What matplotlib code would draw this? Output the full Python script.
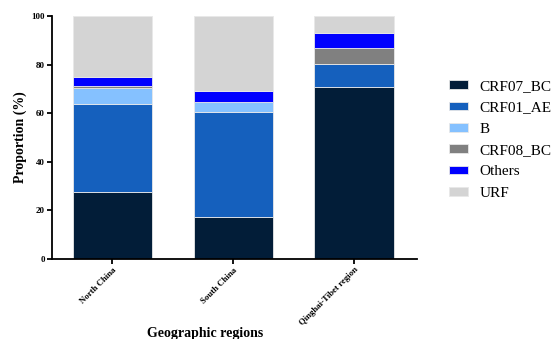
import numpy as np
import matplotlib.pyplot as plt

# regions and subtype proportions (%)
regions = ['North China', 'South China', 'Qinghai-Tibet region']
subtypes = ['CRF07_BC', 'CRF01_AE', 'B', 'CRF08_BC', 'Others', 'URF']
crf07_bc = [27.4, 17.2, 70.7]
crf01_ae = [36.3, 43.4, 9.5]
b = [6.8, 4.1, 0.0]
crf08_bc = [0.7, 0.0, 6.5]
others = [3.7, 4.6, 6.4]
urf = [25.1, 30.7, 6.9]

colors = ['#021d38', '#1560bd', '#85c1ff', '#808080', '#0000ff', '#d4d4d4']

plt.rcParams['font.family'] = ['Liberation Serif', 'DejaVu Serif']

fig = plt.figure(figsize=(5.56, 3.39), dpi=100)
ax = fig.add_axes([0.0935, 0.236, 0.657, 0.717])

x = np.arange(len(regions))
bottom = np.zeros(len(regions))
for name, vals, col in zip(subtypes, [crf07_bc, crf01_ae, b, crf08_bc, others, urf], colors):
    ax.bar(x, vals, 0.66, bottom=bottom, color=col, edgecolor='#e8e8e8',
           linewidth=0.6, label=name)
    bottom += np.array(vals)

ax.set_xlim(-0.5, 2.52)
ax.set_ylim(0, 100)
ax.set_yticks([0, 20, 40, 60, 80, 100])
for s in ['top', 'right']:
    ax.spines[s].set_visible(False)
for s in ['left', 'bottom']:
    ax.spines[s].set_linewidth(1.3)
ax.tick_params(axis='both', width=1.3, length=3.5, labelsize=6.5, pad=1.5)
for t in ax.get_yticklabels():
    t.set_fontweight('bold')
ax.set_xticks(x)
ax.set_xticklabels(regions, rotation=45, ha='right', rotation_mode='anchor',
                   fontsize=6.3, fontweight='bold')

ax.set_ylabel('Proportion (%)', fontsize=10, fontweight='bold', labelpad=3)
ax.set_xlabel('Geographic regions', fontsize=10, fontweight='bold')
ax.xaxis.set_label_coords(0.42, -0.28)

ax.legend(loc='center left', bbox_to_anchor=(1.05, 0.49), frameon=False,
          fontsize=11, handlelength=1.25, handleheight=0.5, handletextpad=0.75,
          labelspacing=0.55)

fig.savefig('out.png', dpi=100)
